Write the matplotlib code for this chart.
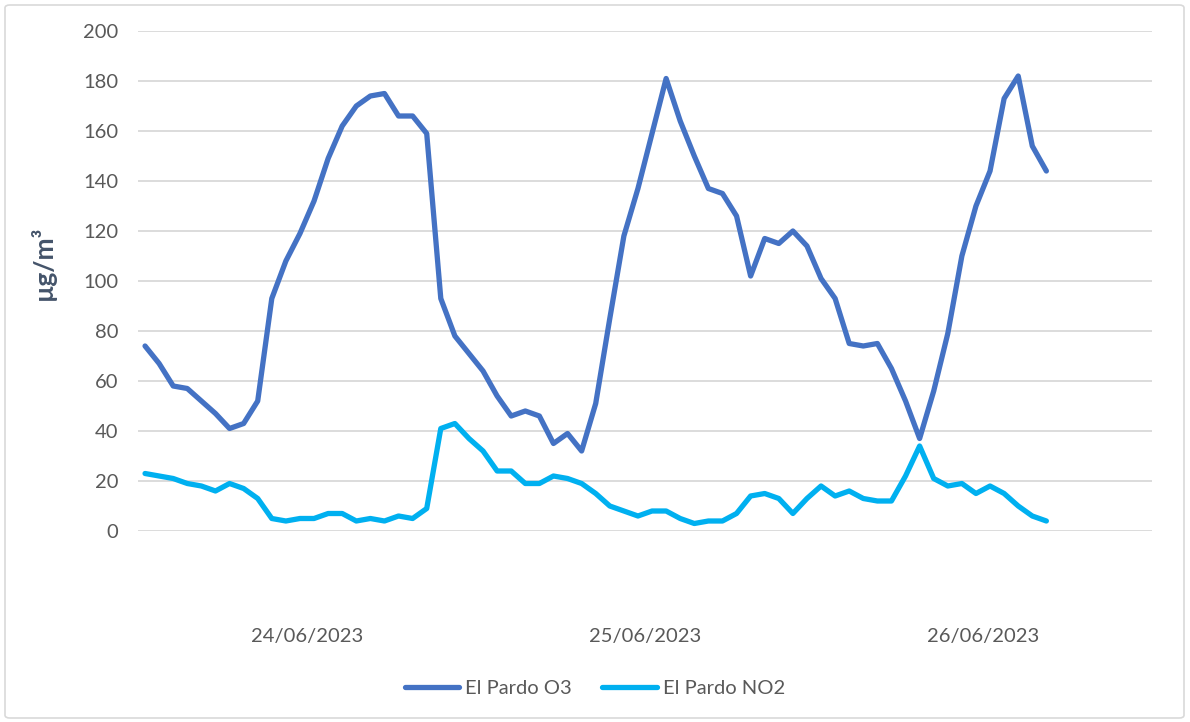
import matplotlib
matplotlib.use("Agg")
import matplotlib.pyplot as plt
from matplotlib.patches import FancyBboxPatch

plt.rcParams['font.family'] = ['Lato', 'DejaVu Sans']

hours = list(range(65))
o3 = [74, 67, 58, 57, 52, 47, 41, 43, 52, 93, 108, 119, 132, 149, 162, 170,
      174, 175, 166, 166, 159, 93, 78, 71, 64, 54, 46, 48, 46, 35, 39, 32,
      51, 85, 118, 137, 159, 181, 164, 150, 137, 135, 126, 102, 117, 115, 120, 114,
      101, 93, 75, 74, 75, 65, 52, 37, 56, 79, 110, 130, 144, 173, 182, 154, 144]
no2 = [23, 22, 21, 19, 18, 16, 19, 17, 13, 5, 4, 5, 5, 7, 7, 4,
       5, 4, 6, 5, 9, 41, 43, 37, 32, 24, 24, 19, 19, 22, 21, 19,
       15, 10, 8, 6, 8, 8, 5, 3, 4, 4, 7, 14, 15, 13, 7, 13,
       18, 14, 16, 13, 12, 12, 22, 34, 21, 18, 19, 15, 18, 15, 10, 6, 4]
day_positions = [11.5, 35.5, 59.5]
day_labels = ['24/06/2023', '25/06/2023', '26/06/2023']
yticks = list(range(0, 201, 20))

W, H = 1190, 722
fig = plt.figure(figsize=(W / 100, H / 100), dpi=100)
fig.patch.set_facecolor('white')
border = FancyBboxPatch((5 / W, 4 / H), (W - 11) / W, (H - 9) / H,
                        boxstyle='round,pad=0,rounding_size=0.004',
                        transform=fig.transFigure, fill=False,
                        edgecolor='#D9D9D9', linewidth=1.2)
fig.patches.append(border)

ax = fig.add_axes([138 / W, 1 - 531 / H, (1152 - 138) / W, 500 / H])
ax.plot(hours, o3, color='#4472C4', linewidth=3.8, label='El Pardo O3',
        solid_joinstyle='round', solid_capstyle='round')
ax.plot(hours, no2, color='#00B0F0', linewidth=3.8, label='El Pardo NO2',
        solid_joinstyle='round', solid_capstyle='round')

ax.set_xlim(-0.5, 71.5)
ax.set_ylim(0, 200)
ax.set_yticks(yticks)
ax.set_yticklabels([str(v) for v in yticks])
ax.set_xticks(day_positions)
ax.set_xticklabels(day_labels)
ax.tick_params(axis='y', length=0, pad=14, labelsize=14.5, labelcolor='#595959')
ax.tick_params(axis='x', length=0, pad=70, labelsize=14.5, labelcolor='#595959')
ax.grid(axis='y', color='#D9D9D9', linewidth=1.3)
ax.set_axisbelow(True)
for s in ax.spines.values():
    s.set_visible(False)

fig.text(43 / W, 1 - 263 / H, 'µg/m³', rotation=90, ha='center', va='center',
         fontsize=19, fontweight='bold', color='#44546A')

handles, labels = ax.get_legend_handles_labels()
leg = fig.legend(handles, labels, loc='center', bbox_to_anchor=(0.5, 1 - 688 / H),
                 ncol=2, frameon=False, fontsize=14.5, handlelength=2.7,
                 handletextpad=0.3, columnspacing=1.5)
for t in leg.get_texts():
    t.set_color('#595959')

fig.savefig('out.png', dpi=100)
